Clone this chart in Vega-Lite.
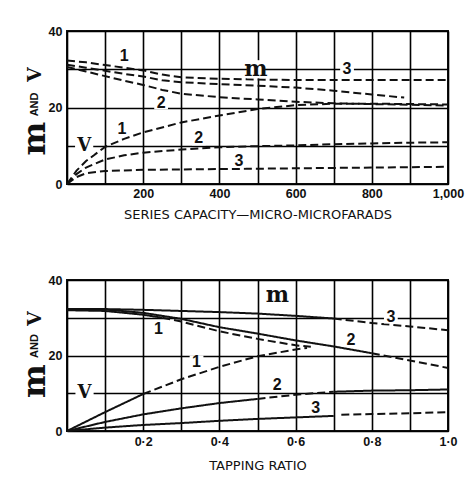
{
  "$schema": "https://vega.github.io/schema/vega-lite/v6.json",
  "padding": {"left": 17, "top": 24, "right": 2, "bottom": 2},
  "background": "white",
  "spacing": 50,
  "config": {
    "view": {"stroke": "#111", "strokeWidth": 2},
    "axis": {
      "grid": true, "gridColor": "#000", "gridWidth": 1.6, "gridOpacity": 1,
      "domain": false, "ticks": false,
      "labelFont": "Liberation Sans", "labelFontWeight": "bold", "labelFontSize": 12.5, "labelColor": "#111",
      "labelOverlap": false, "labelFlush": false,
      "titleFont": "DejaVu Sans", "titleFontWeight": "normal", "titleFontSize": 13, "titleColor": "#111"
    }
  },
  "datasets": {
    "capacity": [
      {"curve": "m1", "x": 0, "y": 32.3}, {"curve": "m1", "x": 50, "y": 31.8}, {"curve": "m1", "x": 100, "y": 31.1}, {"curve": "m1", "x": 150, "y": 30.4}, {"curve": "m1", "x": 200, "y": 29.7}, {"curve": "m1", "x": 250, "y": 28.6}, {"curve": "m1", "x": 300, "y": 27.9}, {"curve": "m1", "x": 400, "y": 27.5}, {"curve": "m1", "x": 500, "y": 27.3}, {"curve": "m1", "x": 600, "y": 27.2}, {"curve": "m1", "x": 700, "y": 27.2}, {"curve": "m1", "x": 800, "y": 27.2}, {"curve": "m1", "x": 900, "y": 27.2}, {"curve": "m1", "x": 1000, "y": 27.2},
      {"curve": "m3", "x": 0, "y": 31.2}, {"curve": "m3", "x": 50, "y": 30.4}, {"curve": "m3", "x": 100, "y": 29.6}, {"curve": "m3", "x": 150, "y": 28.8}, {"curve": "m3", "x": 200, "y": 28.1}, {"curve": "m3", "x": 250, "y": 27.1}, {"curve": "m3", "x": 300, "y": 26.6}, {"curve": "m3", "x": 400, "y": 26.1}, {"curve": "m3", "x": 500, "y": 25.7}, {"curve": "m3", "x": 600, "y": 25.2}, {"curve": "m3", "x": 700, "y": 24.4}, {"curve": "m3", "x": 800, "y": 23.4}, {"curve": "m3", "x": 885, "y": 22.6},
      {"curve": "m2", "x": 0, "y": 30.6}, {"curve": "m2", "x": 50, "y": 29.4}, {"curve": "m2", "x": 100, "y": 28.2}, {"curve": "m2", "x": 150, "y": 27.0}, {"curve": "m2", "x": 200, "y": 25.9}, {"curve": "m2", "x": 250, "y": 24.6}, {"curve": "m2", "x": 300, "y": 23.6}, {"curve": "m2", "x": 400, "y": 22.7}, {"curve": "m2", "x": 500, "y": 22.1}, {"curve": "m2", "x": 600, "y": 21.5}, {"curve": "m2", "x": 700, "y": 21.1}, {"curve": "m2", "x": 800, "y": 20.9}, {"curve": "m2", "x": 900, "y": 20.7}, {"curve": "m2", "x": 1000, "y": 20.5},
      {"curve": "V1", "x": 0, "y": 0}, {"curve": "V1", "x": 25, "y": 3.5}, {"curve": "V1", "x": 50, "y": 6.0}, {"curve": "V1", "x": 100, "y": 9.7}, {"curve": "V1", "x": 150, "y": 11.8}, {"curve": "V1", "x": 200, "y": 13.5}, {"curve": "V1", "x": 300, "y": 16.1}, {"curve": "V1", "x": 400, "y": 17.9}, {"curve": "V1", "x": 500, "y": 19.6}, {"curve": "V1", "x": 600, "y": 20.6}, {"curve": "V1", "x": 700, "y": 21.0}, {"curve": "V1", "x": 800, "y": 21.0}, {"curve": "V1", "x": 900, "y": 20.9}, {"curve": "V1", "x": 1000, "y": 20.8},
      {"curve": "V2", "x": 0, "y": 0}, {"curve": "V2", "x": 25, "y": 2.6}, {"curve": "V2", "x": 50, "y": 4.3}, {"curve": "V2", "x": 100, "y": 6.4}, {"curve": "V2", "x": 150, "y": 7.5}, {"curve": "V2", "x": 200, "y": 8.2}, {"curve": "V2", "x": 300, "y": 9.0}, {"curve": "V2", "x": 400, "y": 9.6}, {"curve": "V2", "x": 500, "y": 9.9}, {"curve": "V2", "x": 600, "y": 10.1}, {"curve": "V2", "x": 700, "y": 10.4}, {"curve": "V2", "x": 800, "y": 10.6}, {"curve": "V2", "x": 900, "y": 10.8}, {"curve": "V2", "x": 1000, "y": 10.9},
      {"curve": "V3", "x": 0, "y": 0}, {"curve": "V3", "x": 25, "y": 1.8}, {"curve": "V3", "x": 50, "y": 2.8}, {"curve": "V3", "x": 100, "y": 3.4}, {"curve": "V3", "x": 200, "y": 3.7}, {"curve": "V3", "x": 300, "y": 3.8}, {"curve": "V3", "x": 400, "y": 3.9}, {"curve": "V3", "x": 500, "y": 4.0}, {"curve": "V3", "x": 600, "y": 4.1}, {"curve": "V3", "x": 700, "y": 4.2}, {"curve": "V3", "x": 800, "y": 4.3}, {"curve": "V3", "x": 900, "y": 4.4}, {"curve": "V3", "x": 1000, "y": 4.5}
    ],
    "tapping": [
      {"curve": "m3", "seg": "m3a", "trace": "measured", "x": 0, "y": 32.3}, {"curve": "m3", "seg": "m3a", "trace": "measured", "x": 0.1, "y": 32.3}, {"curve": "m3", "seg": "m3a", "trace": "measured", "x": 0.2, "y": 32.1}, {"curve": "m3", "seg": "m3a", "trace": "measured", "x": 0.3, "y": 31.8}, {"curve": "m3", "seg": "m3a", "trace": "measured", "x": 0.4, "y": 31.5}, {"curve": "m3", "seg": "m3a", "trace": "measured", "x": 0.5, "y": 31.1}, {"curve": "m3", "seg": "m3a", "trace": "measured", "x": 0.6, "y": 30.5}, {"curve": "m3", "seg": "m3a", "trace": "measured", "x": 0.7, "y": 29.8},
      {"curve": "m3", "seg": "m3b", "trace": "estimated", "x": 0.7, "y": 29.8}, {"curve": "m3", "seg": "m3b", "trace": "estimated", "x": 0.8, "y": 28.6}, {"curve": "m3", "seg": "m3b", "trace": "estimated", "x": 0.9, "y": 27.7}, {"curve": "m3", "seg": "m3b", "trace": "estimated", "x": 1.0, "y": 26.7},
      {"curve": "m2", "seg": "m2a", "trace": "measured", "x": 0, "y": 32.3}, {"curve": "m2", "seg": "m2a", "trace": "measured", "x": 0.1, "y": 32.2}, {"curve": "m2", "seg": "m2a", "trace": "measured", "x": 0.2, "y": 31.3}, {"curve": "m2", "seg": "m2a", "trace": "measured", "x": 0.3, "y": 29.7}, {"curve": "m2", "seg": "m2a", "trace": "measured", "x": 0.4, "y": 27.5}, {"curve": "m2", "seg": "m2a", "trace": "measured", "x": 0.5, "y": 25.8}, {"curve": "m2", "seg": "m2a", "trace": "measured", "x": 0.6, "y": 24.0}, {"curve": "m2", "seg": "m2a", "trace": "measured", "x": 0.7, "y": 22.4}, {"curve": "m2", "seg": "m2a", "trace": "measured", "x": 0.8, "y": 20.6},
      {"curve": "m2", "seg": "m2b", "trace": "estimated", "x": 0.8, "y": 20.6}, {"curve": "m2", "seg": "m2b", "trace": "estimated", "x": 0.9, "y": 18.7}, {"curve": "m2", "seg": "m2b", "trace": "estimated", "x": 1.0, "y": 16.7},
      {"curve": "m1", "seg": "m1a", "trace": "measured", "x": 0, "y": 32.0}, {"curve": "m1", "seg": "m1a", "trace": "measured", "x": 0.1, "y": 31.8}, {"curve": "m1", "seg": "m1a", "trace": "measured", "x": 0.2, "y": 30.8}, {"curve": "m1", "seg": "m1a", "trace": "measured", "x": 0.25, "y": 30.0},
      {"curve": "m1", "seg": "m1b", "trace": "estimated", "x": 0.25, "y": 30.0}, {"curve": "m1", "seg": "m1b", "trace": "estimated", "x": 0.3, "y": 29.0}, {"curve": "m1", "seg": "m1b", "trace": "estimated", "x": 0.4, "y": 26.4}, {"curve": "m1", "seg": "m1b", "trace": "estimated", "x": 0.5, "y": 24.4}, {"curve": "m1", "seg": "m1b", "trace": "estimated", "x": 0.6, "y": 22.7}, {"curve": "m1", "seg": "m1b", "trace": "estimated", "x": 0.64, "y": 22.3},
      {"curve": "V1", "seg": "V1a", "trace": "measured", "x": 0, "y": 0}, {"curve": "V1", "seg": "V1a", "trace": "measured", "x": 0.1, "y": 5.0}, {"curve": "V1", "seg": "V1a", "trace": "measured", "x": 0.2, "y": 9.8},
      {"curve": "V1", "seg": "V1b", "trace": "estimated", "x": 0.2, "y": 9.8}, {"curve": "V1", "seg": "V1b", "trace": "estimated", "x": 0.3, "y": 13.7}, {"curve": "V1", "seg": "V1b", "trace": "estimated", "x": 0.4, "y": 17.0}, {"curve": "V1", "seg": "V1b", "trace": "estimated", "x": 0.5, "y": 19.8}, {"curve": "V1", "seg": "V1b", "trace": "estimated", "x": 0.6, "y": 21.6}, {"curve": "V1", "seg": "V1b", "trace": "estimated", "x": 0.63, "y": 22.0},
      {"curve": "V2", "seg": "V2a", "trace": "measured", "x": 0, "y": 0}, {"curve": "V2", "seg": "V2a", "trace": "measured", "x": 0.1, "y": 2.4}, {"curve": "V2", "seg": "V2a", "trace": "measured", "x": 0.2, "y": 4.4}, {"curve": "V2", "seg": "V2a", "trace": "measured", "x": 0.3, "y": 6.0}, {"curve": "V2", "seg": "V2a", "trace": "measured", "x": 0.4, "y": 7.4}, {"curve": "V2", "seg": "V2a", "trace": "measured", "x": 0.5, "y": 8.5},
      {"curve": "V2", "seg": "V2b", "trace": "estimated", "x": 0.5, "y": 8.5}, {"curve": "V2", "seg": "V2b", "trace": "estimated", "x": 0.6, "y": 9.6}, {"curve": "V2", "seg": "V2b", "trace": "estimated", "x": 0.7, "y": 10.4},
      {"curve": "V2", "seg": "V2c", "trace": "measured", "x": 0.7, "y": 10.4}, {"curve": "V2", "seg": "V2c", "trace": "measured", "x": 0.8, "y": 10.7}, {"curve": "V2", "seg": "V2c", "trace": "measured", "x": 0.9, "y": 10.8}, {"curve": "V2", "seg": "V2c", "trace": "measured", "x": 1.0, "y": 11.0},
      {"curve": "V3", "seg": "V3a", "trace": "measured", "x": 0, "y": 0}, {"curve": "V3", "seg": "V3a", "trace": "measured", "x": 0.1, "y": 0.9}, {"curve": "V3", "seg": "V3a", "trace": "measured", "x": 0.2, "y": 1.6}, {"curve": "V3", "seg": "V3a", "trace": "measured", "x": 0.3, "y": 2.1}, {"curve": "V3", "seg": "V3a", "trace": "measured", "x": 0.4, "y": 2.7}, {"curve": "V3", "seg": "V3a", "trace": "measured", "x": 0.5, "y": 3.2}, {"curve": "V3", "seg": "V3a", "trace": "measured", "x": 0.6, "y": 3.6}, {"curve": "V3", "seg": "V3a", "trace": "measured", "x": 0.7, "y": 4.0},
      {"curve": "V3", "seg": "V3b", "trace": "estimated", "x": 0.72, "y": 4.3}, {"curve": "V3", "seg": "V3b", "trace": "estimated", "x": 0.8, "y": 4.5}, {"curve": "V3", "seg": "V3b", "trace": "estimated", "x": 0.9, "y": 4.7}, {"curve": "V3", "seg": "V3b", "trace": "estimated", "x": 1.0, "y": 5.0}
    ],
    "capacity_labels": [
      {"text": "1", "role": "digit", "x": 150, "y": 33.4},
      {"text": "m", "role": "m", "x": 496, "y": 30},
      {"text": "3", "role": "digit", "x": 735, "y": 30},
      {"text": "2", "role": "digit", "x": 247, "y": 21.3},
      {"text": "1", "role": "digit", "x": 144, "y": 14.5},
      {"text": "V", "role": "V", "x": 45, "y": 10},
      {"text": "2", "role": "digit", "x": 346, "y": 11.9},
      {"text": "3", "role": "digit", "x": 451, "y": 6.1},
      {"text": "m", "role": "axis_m", "x": -84, "y": 11.9},
      {"text": "AND", "role": "axis_and", "x": -84, "y": 20.8},
      {"text": "V", "role": "axis_V", "x": -84, "y": 28.6}
    ],
    "tapping_labels": [
      {"text": "m", "role": "m", "x": 0.552, "y": 35.9},
      {"text": "3", "role": "digit", "x": 0.85, "y": 30.3},
      {"text": "1", "role": "digit", "x": 0.24, "y": 27.0},
      {"text": "2", "role": "digit", "x": 0.745, "y": 24.2},
      {"text": "1", "role": "digit", "x": 0.34, "y": 18.2},
      {"text": "V", "role": "V", "x": 0.046, "y": 10},
      {"text": "2", "role": "digit", "x": 0.552, "y": 12.2},
      {"text": "3", "role": "digit", "x": 0.653, "y": 6.2},
      {"text": "m", "role": "axis_m", "x": -0.084, "y": 13.2},
      {"text": "AND", "role": "axis_and", "x": -0.084, "y": 22.5},
      {"text": "V", "role": "axis_V", "x": -0.084, "y": 29.8}
    ]
  },
  "vconcat": [
    {
      "width": 381,
      "height": 153,
      "encoding": {
        "x": {"field": "x", "type": "quantitative", "scale": {"domain": [0, 1000], "nice": false, "zero": false},
              "title": "SERIES CAPACITY—MICRO-MICROFARADS",
              "axis": {"grid": true, "tickCount": 10,
                       "labelExpr": "datum.value % 200 == 0 && datum.value > 0 ? format(datum.value, ',') : ''",
                       "labelPadding": 3, "titlePadding": 9}},
        "y": {"field": "y", "type": "quantitative", "scale": {"domain": [0, 40], "nice": false, "zero": false},
              "title": null,
              "axis": {"grid": true, "tickCount": 4, "labelExpr": "datum.value % 20 == 0 ? format(datum.value, 'd') : ''", "labelPadding": 5}}
      },
      "layer": [
        {"data": {"name": "capacity"},
         "mark": {"type": "line", "color": "#111", "strokeWidth": 2, "strokeDash": [8, 4]},
         "encoding": {"detail": {"field": "curve"}}},
        {"data": {"name": "capacity_labels"}, "transform": [{"filter": "datum.role == 'digit'"}],
         "mark": {"type": "point", "shape": "square", "filled": true, "color": "white", "opacity": 1, "size": 190}},
        {"data": {"name": "capacity_labels"}, "transform": [{"filter": "datum.role == 'm' || datum.role == 'V'"}],
         "mark": {"type": "point", "shape": "square", "filled": true, "color": "white", "opacity": 1, "size": 330}},
        {"data": {"name": "capacity_labels"}, "transform": [{"filter": "datum.role == 'digit'"}],
         "mark": {"type": "text", "font": "Liberation Sans", "fontWeight": "bold", "fontSize": 16, "color": "#111", "baseline": "middle", "align": "center"},
         "encoding": {"text": {"field": "text"}}},
        {"data": {"name": "capacity_labels"}, "transform": [{"filter": "datum.role == 'm'"}],
         "mark": {"type": "text", "font": "DejaVu Serif", "fontWeight": "bold", "fontSize": 22, "color": "#111", "baseline": "middle", "align": "center"},
         "encoding": {"text": {"field": "text"}}},
        {"data": {"name": "capacity_labels"}, "transform": [{"filter": "datum.role == 'V'"}],
         "mark": {"type": "text", "font": "DejaVu Serif", "fontWeight": "bold", "fontSize": 18, "color": "#111", "baseline": "middle", "align": "center"},
         "encoding": {"text": {"field": "text"}}},
        {"data": {"name": "capacity_labels"}, "transform": [{"filter": "datum.role == 'axis_m'"}],
         "mark": {"type": "text", "font": "DejaVu Serif", "fontWeight": "bold", "fontSize": 32, "color": "#111", "baseline": "middle", "align": "center", "angle": 270, "clip": false},
         "encoding": {"text": {"field": "text"}}},
        {"data": {"name": "capacity_labels"}, "transform": [{"filter": "datum.role == 'axis_V'"}],
         "mark": {"type": "text", "font": "DejaVu Serif", "fontWeight": "bold", "fontSize": 19, "color": "#111", "baseline": "middle", "align": "center", "angle": 270, "clip": false},
         "encoding": {"text": {"field": "text"}}},
        {"data": {"name": "capacity_labels"}, "transform": [{"filter": "datum.role == 'axis_and'"}],
         "mark": {"type": "text", "font": "Liberation Sans", "fontWeight": "bold", "fontSize": 11, "color": "#111", "baseline": "middle", "align": "center", "angle": 270, "clip": false},
         "encoding": {"text": {"field": "text"}}}
      ]
    },
    {
      "width": 381,
      "height": 151,
      "encoding": {
        "x": {"field": "x", "type": "quantitative", "scale": {"domain": [0, 1], "nice": false, "zero": false},
              "title": "TAPPING RATIO",
              "axis": {"grid": true, "tickCount": 10,
                       "labelExpr": "round(datum.value * 10) % 2 == 0 && datum.value > 0 ? replace(format(datum.value, '.1f'), '.', '·') : ''",
                       "labelPadding": 4, "titlePadding": 12}},
        "y": {"field": "y", "type": "quantitative", "scale": {"domain": [0, 40], "nice": false, "zero": false},
              "title": null,
              "axis": {"grid": true, "tickCount": 4, "labelExpr": "datum.value % 20 == 0 ? format(datum.value, 'd') : ''", "labelPadding": 5}}
      },
      "layer": [
        {"data": {"name": "tapping"},
         "mark": {"type": "line", "color": "#111", "strokeWidth": 2},
         "encoding": {"detail": {"field": "seg"},
                      "strokeDash": {"field": "trace", "type": "nominal", "legend": null,
                                     "scale": {"domain": ["measured", "estimated"], "range": [[1, 0], [8, 4]]}}}},
        {"data": {"name": "tapping_labels"}, "transform": [{"filter": "datum.role == 'digit'"}],
         "mark": {"type": "point", "shape": "square", "filled": true, "color": "white", "opacity": 1, "size": 190}},
        {"data": {"name": "tapping_labels"}, "transform": [{"filter": "datum.role == 'm' || datum.role == 'V'"}],
         "mark": {"type": "point", "shape": "square", "filled": true, "color": "white", "opacity": 1, "size": 330}},
        {"data": {"name": "tapping_labels"}, "transform": [{"filter": "datum.role == 'digit'"}],
         "mark": {"type": "text", "font": "Liberation Sans", "fontWeight": "bold", "fontSize": 16, "color": "#111", "baseline": "middle", "align": "center"},
         "encoding": {"text": {"field": "text"}}},
        {"data": {"name": "tapping_labels"}, "transform": [{"filter": "datum.role == 'm'"}],
         "mark": {"type": "text", "font": "DejaVu Serif", "fontWeight": "bold", "fontSize": 22, "color": "#111", "baseline": "middle", "align": "center"},
         "encoding": {"text": {"field": "text"}}},
        {"data": {"name": "tapping_labels"}, "transform": [{"filter": "datum.role == 'V'"}],
         "mark": {"type": "text", "font": "DejaVu Serif", "fontWeight": "bold", "fontSize": 18, "color": "#111", "baseline": "middle", "align": "center"},
         "encoding": {"text": {"field": "text"}}},
        {"data": {"name": "tapping_labels"}, "transform": [{"filter": "datum.role == 'axis_m'"}],
         "mark": {"type": "text", "font": "DejaVu Serif", "fontWeight": "bold", "fontSize": 32, "color": "#111", "baseline": "middle", "align": "center", "angle": 270, "clip": false},
         "encoding": {"text": {"field": "text"}}},
        {"data": {"name": "tapping_labels"}, "transform": [{"filter": "datum.role == 'axis_V'"}],
         "mark": {"type": "text", "font": "DejaVu Serif", "fontWeight": "bold", "fontSize": 19, "color": "#111", "baseline": "middle", "align": "center", "angle": 270, "clip": false},
         "encoding": {"text": {"field": "text"}}},
        {"data": {"name": "tapping_labels"}, "transform": [{"filter": "datum.role == 'axis_and'"}],
         "mark": {"type": "text", "font": "Liberation Sans", "fontWeight": "bold", "fontSize": 11, "color": "#111", "baseline": "middle", "align": "center", "angle": 270, "clip": false},
         "encoding": {"text": {"field": "text"}}}
      ]
    }
  ]
}
